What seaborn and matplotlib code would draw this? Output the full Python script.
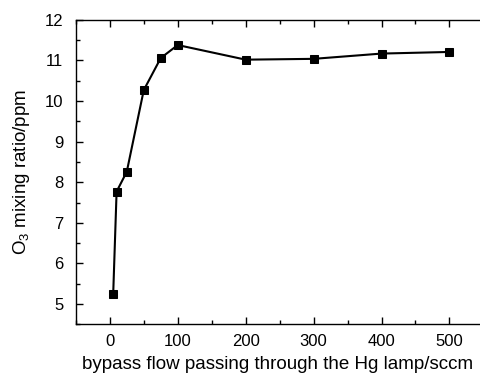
import matplotlib
matplotlib.use("Agg")
import matplotlib.pyplot as plt
import seaborn as sns
import pandas as pd
from matplotlib.ticker import MultipleLocator

flow = [5, 10, 25, 50, 75, 100, 200, 300, 400, 500]
o3 = [5.25, 7.77, 8.26, 10.27, 11.06, 11.38, 11.02, 11.04, 11.17, 11.21]

sns.set_style("ticks")
plt.rcParams['font.family'] = ['Liberation Sans', 'DejaVu Sans']
plt.rcParams['mathtext.default'] = 'regular'
plt.rcParams['text.color'] = 'black'
plt.rcParams['axes.labelcolor'] = 'black'

df = pd.DataFrame({"flow": flow, "o3": o3})
fig = plt.figure(figsize=(4.8, 3.75), dpi=100)
ax = fig.add_axes([0.158, 0.135, 0.842, 0.812])
sns.lineplot(data=df, x="flow", y="o3", ax=ax, color="black", marker="s",
             markersize=6, linewidth=1.5, markeredgecolor="black")

ax.set_xlim(-50, 545)
ax.set_ylim(4.5, 12)
ax.xaxis.set_major_locator(MultipleLocator(100))
ax.xaxis.set_minor_locator(MultipleLocator(50))
ax.yaxis.set_major_locator(MultipleLocator(1))
ax.yaxis.set_minor_locator(MultipleLocator(0.5))
ax.tick_params(which="both", direction="in", top=True, right=False, labelsize=12,
               width=1, colors="black", labelcolor="black")
ax.tick_params(which="major", length=5)
ax.tick_params(which="minor", length=3)
ax.tick_params(axis="x", which="major", pad=7)
ax.tick_params(axis="y", which="major", pad=9)
for s in ["left", "bottom", "top"]:
    ax.spines[s].set_visible(True)
    ax.spines[s].set_linewidth(1)
    ax.spines[s].set_color("black")
ax.spines["right"].set_visible(False)

ax.set_xlabel("bypass flow passing through the Hg lamp/sccm", fontsize=13.5, labelpad=5)
ax.set_ylabel("O$_3$ mixing ratio/ppm", fontsize=13.5, labelpad=9)

fig.savefig("out.png", dpi=100)
